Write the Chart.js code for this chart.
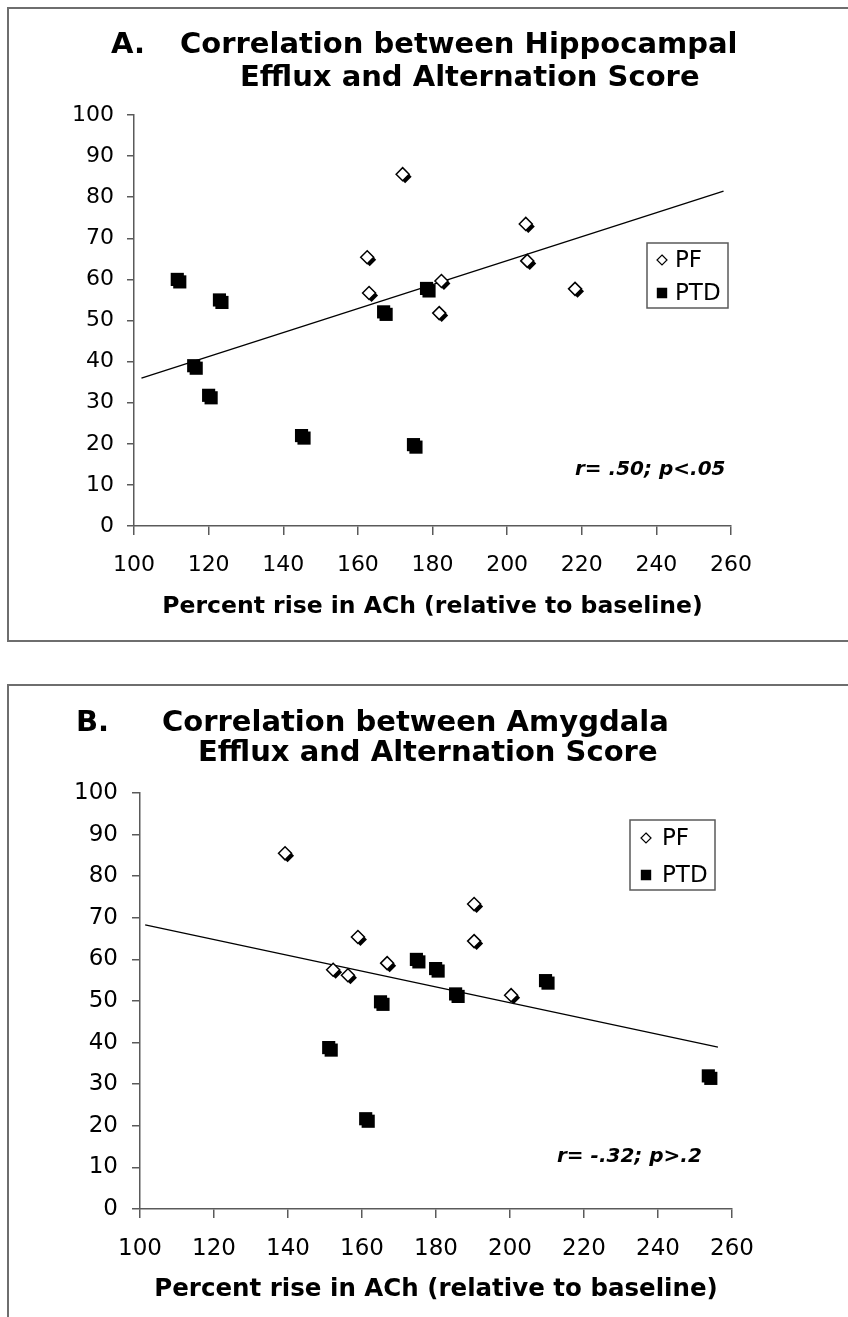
<!DOCTYPE html>
<html>
<head>
<meta charset="utf-8">
<script src="https://cdn.jsdelivr.net/npm/chart.js@4.4.0/dist/chart.umd.min.js"></script>
<style>
  html, body { margin: 0; padding: 0; background: #fff; overflow: hidden; }
  body { width: 848px; height: 1317px; position: relative; }
  .frame { position: absolute; border: 2px solid #6e6e6e; }
  #frameA { left: 7px; top: 7px; width: 900px; height: 631px; }
  #frameB { left: 7px; top: 684px; width: 900px; height: 700px; }
  canvas { position: absolute; left: 0; }
  #chartA { top: 0; width: 848px; height: 662px; }
  #chartB { top: 662px; width: 848px; height: 655px; }
</style>
</head>
<body>
<div class="frame" id="frameA"></div>
<div class="frame" id="frameB"></div>
<canvas id="chartA" width="848" height="662"></canvas>
<canvas id="chartB" width="848" height="655"></canvas>
<script>
// Tick values shared by both panels
const xTickValues = [100, 120, 140, 160, 180, 200, 220, 240, 260];
const yTickValues = [0, 10, 20, 30, 40, 50, 60, 70, 80, 90, 100];

// A. Hippocampal efflux vs alternation score
const hipPfX = [172, 162.5, 163, 182.4, 181.8, 205, 205.4, 218.2];
const hipPfY = [85.6, 65.4, 56.7, 59.6, 51.8, 73.5, 64.5, 57.7];
const hipPtdX = [111.6, 122.9, 116, 120, 144.9, 174.9, 178.4, 166.9];
const hipPtdY = [60, 55, 39, 31.8, 22, 19.8, 57.8, 52.1];
const hipFitX = [102, 258];
const hipFitY = [36, 81.5];

// B. Amygdala efflux vs alternation score
const amyPfX = [139.2, 158.9, 152.2, 156.2, 166.8, 190.3, 190.3, 200.3];
const amyPfY = [85.5, 65.4, 57.5, 56.2, 59.1, 73.3, 64.4, 51.4];
const amyPtdX = [174.7, 179.9, 165, 151, 185.3, 209.6, 253.6, 161];
const amyPtdY = [60, 57.8, 49.8, 38.8, 51.7, 54.9, 32, 21.7];
const amyFitX = [101.4, 256.2];
const amyFitY = [68.3, 38.9];

const FONT = 'DejaVu Sans';
const axisColor = '#5a5a5a';
Chart.defaults.font.family = FONT;
Chart.defaults.color = '#000';

function toPoints(xs, ys) {
    return xs.map((x, i) => ({ x: x, y: ys[i] }));
}

function markerPath(ctx, style, x, y, r) {
    ctx.beginPath();
    if (style === 'rectRot') {
        ctx.moveTo(x, y - r);
        ctx.lineTo(x + r, y);
        ctx.lineTo(x, y + r);
        ctx.lineTo(x - r, y);
    } else {
        const h = r * Math.SQRT1_2;
        ctx.rect(x - h, y - h, 2 * h, 2 * h);
    }
    ctx.closePath();
}

// Excel-like drop shadow under each marker
const shadowPlugin = {
    id: 'markerShadow',
    beforeDatasetDraw(chart, args) {
        const ds = chart.data.datasets[args.index];
        if (!ds.shadowOffset) return;
        const ctx = chart.ctx;
        ctx.save();
        ctx.fillStyle = '#000';
        args.meta.data.forEach(pt => {
            markerPath(ctx, ds.pointStyle, pt.x + ds.shadowOffset, pt.y + ds.shadowOffset, ds.pointRadius);
            ctx.fill();
        });
        ctx.restore();
    }
};

// Panel titles, stats note and the boxed legend
const panelTextPlugin = {
    id: 'panelText',
    afterDraw(chart, args, opts) {
        const ctx = chart.ctx;
        ctx.save();
        ctx.fillStyle = '#000';
        ctx.textBaseline = 'middle';
        ctx.textAlign = 'left';
        opts.items.forEach(t => {
            ctx.font = t.font;
            ctx.fillText(t.text, t.x, t.y);
        });

        const lg = opts.legend;
        ctx.strokeStyle = axisColor;
        ctx.lineWidth = 1.5;
        ctx.strokeRect(lg.left, lg.top, lg.width, lg.height);
        ctx.font = lg.font;
        chart.data.datasets.slice(0, 2).forEach((ds, i) => {
            const y = lg.rows[i];
            markerPath(ctx, ds.pointStyle, lg.markerX, y, lg.markerR[i]);
            ctx.fillStyle = ds.backgroundColor;
            ctx.fill();
            ctx.strokeStyle = '#000';
            ctx.lineWidth = 1.2;
            ctx.stroke();
            ctx.fillStyle = '#000';
            ctx.fillText(ds.label, lg.textX, y + 1);
        });
        ctx.restore();
    }
};

function buildChart(canvasId, cfg) {
    return new Chart(document.getElementById(canvasId), {
        type: 'scatter',
        data: {
            datasets: [
                {
                    label: 'PF',
                    data: toPoints(cfg.pfX, cfg.pfY),
                    pointStyle: 'rectRot',
                    pointRadius: 6.5,
                    backgroundColor: '#fff',
                    borderColor: '#000',
                    borderWidth: 1.5,
                    shadowOffset: 2.5
                },
                {
                    label: 'PTD',
                    data: toPoints(cfg.ptdX, cfg.ptdY),
                    pointStyle: 'rect',
                    pointRadius: 9.3,
                    backgroundColor: '#000',
                    borderColor: '#000',
                    borderWidth: 0,
                    shadowOffset: 2.5
                },
                {
                    label: 'fit',
                    data: toPoints(cfg.fitX, cfg.fitY),
                    showLine: true,
                    pointRadius: 0,
                    borderColor: '#000',
                    borderWidth: 1.3
                }
            ]
        },
        options: {
            responsive: false,
            animation: false,
            events: [],
            layout: { padding: cfg.padding },
            plugins: {
                legend: { display: false },
                tooltip: { enabled: false },
                panelText: { items: cfg.texts, legend: cfg.legend }
            },
            scales: {
                x: {
                    type: 'linear',
                    min: 100,
                    max: 260,
                    afterBuildTicks: s => { s.ticks = xTickValues.map(v => ({ value: v })); },
                    afterFit: s => { s.height = cfg.xAxisHeight; },
                    grid: { drawOnChartArea: false, drawTicks: true, tickLength: 9, color: axisColor, lineWidth: 1.5 },
                    border: { display: true, color: axisColor, width: 1.5 },
                    ticks: { color: '#000', font: { size: cfg.tickSize }, padding: 17, maxRotation: 0, autoSkip: false },
                    title: {
                        display: true,
                        text: 'Percent rise in ACh (relative to baseline)',
                        color: '#000',
                        font: { size: cfg.xTitleSize, weight: 'bold' },
                        padding: { top: 0, bottom: cfg.xTitlePad }
                    }
                },
                y: {
                    type: 'linear',
                    min: 0,
                    max: 100,
                    afterBuildTicks: s => { s.ticks = yTickValues.map(v => ({ value: v })); },
                    afterFit: s => { s.width = cfg.yAxisWidth; },
                    grid: { drawOnChartArea: false, drawTicks: true, tickLength: cfg.yTickLen, color: axisColor, lineWidth: 1.5 },
                    border: { display: true, color: axisColor, width: 1.5 },
                    ticks: { color: '#000', font: { size: cfg.tickSize }, padding: cfg.yTickPad }
                }
            }
        },
        plugins: [shadowPlugin, panelTextPlugin]
    });
}

const titleFont = 'bold 29px "DejaVu Sans"';
const noteFont = 'italic bold 20px "DejaVu Sans"';

buildChart('chartA', {
    pfX: hipPfX, pfY: hipPfY, ptdX: hipPtdX, ptdY: hipPtdY, fitX: hipFitX, fitY: hipFitY,
    padding: { left: 0, right: 117, top: 115, bottom: 0 },
    xAxisHeight: 136, yAxisWidth: 134, yTickLen: 7, yTickPad: 13,
    tickSize: 22, xTitleSize: 23.5, xTitlePad: 41,
    texts: [
        { text: 'A.', x: 111, y: 45, font: titleFont },
        { text: 'Correlation between Hippocampal', x: 180, y: 45, font: titleFont },
        { text: 'Efflux and Alternation Score', x: 240, y: 78, font: titleFont },
        { text: 'r= .50; p<.05', x: 575, y: 470, font: noteFont }
    ],
    legend: { left: 647, top: 243, width: 81, height: 65, rows: [260, 293], markerX: 662, markerR: [5, 6.5], textX: 675, font: '23px "DejaVu Sans"' }
});

buildChart('chartB', {
    pfX: amyPfX, pfY: amyPfY, ptdX: amyPtdX, ptdY: amyPtdY, fitX: amyFitX, fitY: amyFitY,
    padding: { left: 0, right: 116, top: 131, bottom: 0 },
    xAxisHeight: 108, yAxisWidth: 140, yTickLen: 8, yTickPad: 14,
    tickSize: 23, xTitleSize: 24.5, xTitlePad: 12.6,
    texts: [
        { text: 'B.', x: 76, y: 61, font: titleFont },
        { text: 'Correlation between Amygdala', x: 162, y: 61, font: titleFont },
        { text: 'Efflux and Alternation Score', x: 198, y: 91, font: titleFont },
        { text: 'r= -.32; p>.2', x: 557, y: 495, font: noteFont }
    ],
    legend: { left: 630, top: 158, width: 85, height: 70, rows: [176, 213], markerX: 646, markerR: [5, 6.5], textX: 662, font: '23px "DejaVu Sans"' }
});
</script>
</body>
</html>
